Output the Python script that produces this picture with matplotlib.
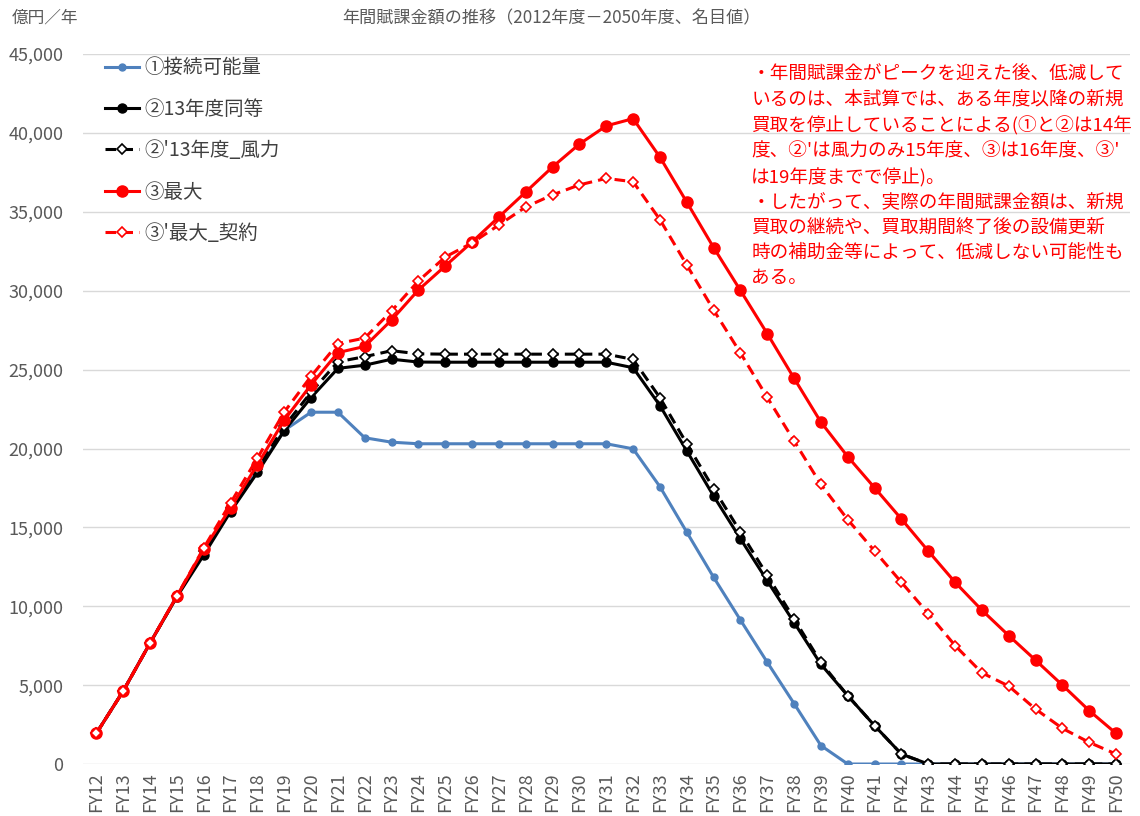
import numpy as np
import matplotlib.pyplot as plt
from matplotlib.ticker import FuncFormatter

plt.rcParams['font.family'] = ['Noto Sans CJK JP', 'DejaVu Sans']

years = ["FY{:02d}".format(y) for y in range(12, 51)]

# 億円／年
s1 = [1950, 4630, 7670, 10650, 13450, 16100, 18600, 21150, 22300, 22300,
      20680, 20400, 20300, 20300, 20300, 20300, 20300, 20300, 20300, 20300,
      19980, 17580, 14700, 11840, 9130, 6450, 3830, 1170, 0, 0,
      0, 0, 0, 0, 0, 0, 0, 0, 0]
s2 = [1950, 4630, 7670, 10600, 13250, 16000, 18480, 21130, 23230, 25080,
      25280, 25660, 25480, 25470, 25470, 25470, 25470, 25470, 25470, 25470,
      25120, 22720, 19850, 16990, 14280, 11610, 8970, 6320, 4330, 2430,
      630, 0, 0, 0, 0, 0, 0, 0, 0]
s2w = [1950, 4630, 7670, 10620, 13500, 16200, 18700, 21400, 23570, 25500,
       25820, 26200, 26000, 25980, 25980, 25980, 25980, 25980, 25980, 25980,
       25650, 23220, 20310, 17460, 14720, 11970, 9200, 6440, 4330, 2430,
       630, 0, 0, 0, 0, 0, 0, 0, 0]
s3 = [1950, 4630, 7670, 10650, 13630, 16230, 18980, 21800, 24040, 26080,
      26470, 28150, 30050, 31570, 33090, 34680, 36260, 37850, 39300, 40450,
      40910, 38470, 35620, 32740, 30020, 27280, 24450, 21670, 19480, 17510,
      15530, 13500, 11520, 9750, 8140, 6580, 5000, 3380, 1940]
s3c = [1950, 4630, 7670, 10650, 13700, 16550, 19390, 22310, 24580, 26650,
       27000, 28720, 30620, 32140, 33030, 34170, 35310, 36080, 36710, 37120,
       36910, 34510, 31630, 28780, 26060, 23240, 20480, 17720, 15490, 13500,
       11520, 9540, 7510, 5780, 4940, 3480, 2260, 1370, 630]

labels = ["①接続可能量", "②13年度同等", "②'13年度_風力", "③最大", "③'最大_契約"]

fig = plt.figure(figsize=(11.4, 8.16), dpi=100)
ax = fig.add_axes([0.0728, 0.0637, 0.918, 0.870])

x = np.arange(len(years))
ax.plot(x, s1, color="#4f81bd", lw=2.2, marker="o", ms=5, label=labels[0], zorder=3)
ax.plot(x, s2, color="black", lw=2.2, marker="o", ms=6.5, label=labels[1], zorder=4)
ax.plot(x, s2w, color="black", lw=2.2, ls=(0, (3.5, 2)), marker="D", ms=5.5,
        mfc="white", mec="black", mew=1.2, label=labels[2], zorder=5)
ax.plot(x, s3, color="#ff0000", lw=2.2, marker="o", ms=8, label=labels[3], zorder=6)
ax.plot(x, s3c, color="#ff0000", lw=2.2, ls=(0, (3.5, 2)), marker="D", ms=5.5,
        mfc="white", mec="#ff0000", mew=1.2, label=labels[4], zorder=7)

ax.set_xlim(-0.5, len(years) - 0.5)
ax.set_ylim(0, 45000)
ax.set_yticks(np.arange(0, 45001, 5000))
ax.yaxis.set_major_formatter(FuncFormatter(lambda v, p: "{:,.0f}".format(v)))
ax.set_xticks(x)
ax.set_xticklabels(years, rotation=90)
ax.tick_params(axis="both", length=0, colors="#595959", labelsize=13)
ax.tick_params(axis="x", pad=6)
ax.tick_params(axis="y", pad=14)
ax.grid(axis="y", color="#d9d9d9", lw=1)
ax.set_axisbelow(True)
for sp in ax.spines.values():
    sp.set_visible(False)

leg = ax.legend(loc="upper left", bbox_to_anchor=(0.004, 1.02), frameon=False,
                fontsize=14, labelspacing=1.05, handlelength=1.75, handletextpad=0.3)
for t in leg.get_texts():
    t.set_color("#404040")

fig.text(0.010, 0.978, "億円／年", fontsize=12, color="#595959", va="center")
fig.text(0.484, 0.978, "年間賦課金額の推移（2012年度－2050年度、名目値）",
         fontsize=12.3, color="#595959", ha="center", va="center")

note = ("・年間賦課金がピークを迎えた後、低減して\n"
        "いるのは、本試算では、ある年度以降の新規\n"
        "買取を停止していることによる(①と②は14年\n"
        "度、②'は風力のみ15年度、③は16年度、③'\n"
        "は19年度までで停止)。\n"
        "・したがって、実際の年間賦課金額は、新規\n"
        "買取の継続や、買取期間終了後の設備更新\n"
        "時の補助金等によって、低減しない可能性も\n"
        "ある。")
fig.text(0.659, 0.920, note, fontsize=13.4, color="#ff0000", va="top",
         linespacing=1.5)

fig.savefig("out.png", dpi=100)
